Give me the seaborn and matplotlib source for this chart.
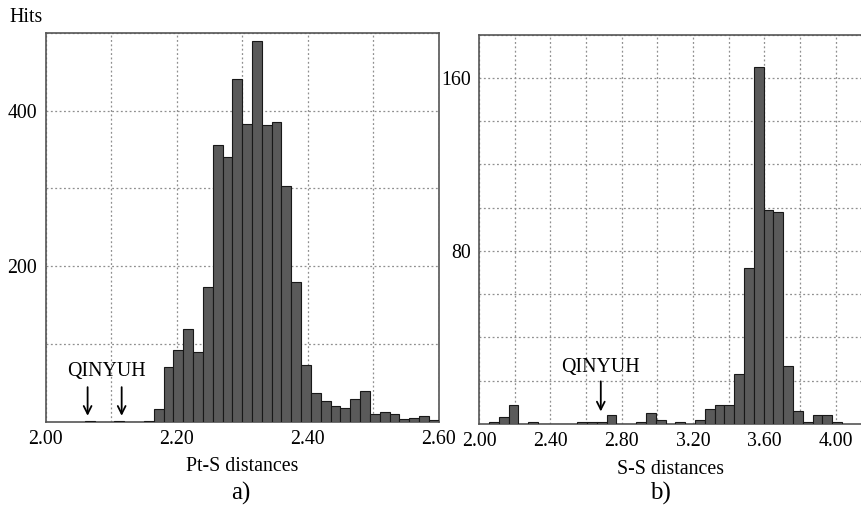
import numpy as np
import pandas as pd
import seaborn as sns
import matplotlib.pyplot as plt

# Pt-S distances: bins of 0.015 starting at 2.060
pts_start = 2.060
pts_width = 0.015
pts_counts = [1, 0, 0, 1, 0, 0,
              1, 16, 70, 92, 119, 89, 173, 356, 340, 441,
              383, 490, 382, 386, 303, 180, 73, 37, 27, 20,
              18, 29, 40, 10, 13, 10, 4, 5, 7, 2]

# S-S distances: bins of 0.055 starting at 2.056
ss_start = 2.056
ss_width = 0.055
ss_counts = [1, 3, 9, 0, 1, 0, 0, 0, 0, 1,
             1, 1, 4, 0, 0, 1, 5, 2, 0, 1,
             0, 2, 7, 9, 9, 23, 72, 165, 99, 98,
             27, 6, 1, 4, 4, 1]

left_xticks = [2.0, 2.1, 2.2, 2.3, 2.4, 2.5, 2.6]
left_xlabels = ["2.00", "", "2.20", "", "2.40", "", "2.60"]
left_yticks = [100, 200, 300, 400, 500]
left_ylabels = ["", "200", "", "400", ""]

right_xticks = [2.0, 2.2, 2.4, 2.6, 2.8, 3.0, 3.2, 3.4, 3.6, 3.8, 4.0]
right_xlabels = ["2.00", "", "2.40", "", "2.80", "", "3.20", "", "3.60", "", "4.00"]
right_yticks = [20, 40, 60, 80, 100, 120, 140, 160, 180]
right_ylabels = ["", "", "", "80", "", "", "", "160", ""]

sns.set_style("white")
plt.rcParams["font.family"] = ["Liberation Serif", "DejaVu Serif"]
plt.rcParams["font.size"] = 14
plt.rcParams["text.color"] = "black"
plt.rcParams["axes.labelcolor"] = "black"
plt.rcParams["xtick.color"] = "black"
plt.rcParams["ytick.color"] = "black"

BAR = "#5a5a5a"
EDGE = "#181818"
GRID = "#8f8f8f"
SPINE = "#555555"
FS = 14.3


def hist_from_counts(ax, start, width, counts):
    n = len(counts)
    edges = [start + width * i for i in range(n + 1)]
    df = pd.DataFrame({
        "x": [(edges[i] + edges[i + 1]) / 2 for i in range(n)],
        "w": [float(c) for c in counts],
    })
    sns.histplot(data=df, x="x", weights="w", bins=edges, color=BAR,
                 edgecolor=EDGE, linewidth=0.8, alpha=1, ax=ax, zorder=3)


def style_axes(ax):
    ax.grid(True, linestyle=(0, (1.5, 2)), color=GRID, linewidth=0.9, zorder=0)
    ax.set_axisbelow(True)
    for s in ax.spines.values():
        s.set_color(SPINE)
        s.set_linewidth(1.2)
    ax.tick_params(direction="out", length=4, width=0.9, color="#333333",
                   labelcolor="black", labelsize=FS, pad=2)
    ax.set_ylabel("")


fig = plt.figure(figsize=(8.62, 5.12), dpi=100)

# ---- a) Pt-S
ax1 = fig.add_axes([0.053, 0.1764, 0.4559, 0.7592])
hist_from_counts(ax1, pts_start, pts_width, pts_counts)
ax1.set_xlim(2.0, 2.6)
ax1.set_ylim(0, 500)
ax1.set_xticks(left_xticks)
ax1.set_xticklabels(left_xlabels)
ax1.set_yticks(left_yticks)
ax1.set_yticklabels(left_ylabels)
style_axes(ax1)
ax1.set_xlabel("Pt-S distances", fontsize=FS, labelpad=6)

for xa in [2.064, 2.116]:
    ax1.annotate("", xy=(xa, 4), xytext=(xa, 48),
                 arrowprops=dict(arrowstyle="->", color="black", lw=1.3,
                                 mutation_scale=14))
ax1.text(2.093, 64, "QINYUH", ha="center", va="center", fontsize=FS)

# ---- b) S-S
ax2 = fig.add_axes([0.5557, 0.1719, 0.4443, 0.7604])
hist_from_counts(ax2, ss_start, ss_width, ss_counts)
ax2.set_xlim(2.0, 4.148)
ax2.set_ylim(0, 180)
ax2.set_xticks(right_xticks)
ax2.set_xticklabels(right_xlabels)
ax2.set_yticks(right_yticks)
ax2.set_yticklabels(right_ylabels)
style_axes(ax2)
ax2.spines["right"].set_visible(False)
ax2.set_xlabel("S-S distances", fontsize=FS, labelpad=6)

ax2.annotate("", xy=(2.683, 4.5), xytext=(2.683, 21),
             arrowprops=dict(arrowstyle="->", color="black", lw=1.3,
                             mutation_scale=14))
ax2.text(2.683, 26, "QINYUH", ha="center", va="center", fontsize=FS)

fig.text(0.011, 0.965, "Hits", fontsize=FS, ha="left", va="center")
fig.text(0.279, 0.036, "a)", fontsize=18, ha="center", va="center")
fig.text(0.766, 0.036, "b)", fontsize=18, ha="center", va="center")

fig.savefig("out.png", dpi=100)
